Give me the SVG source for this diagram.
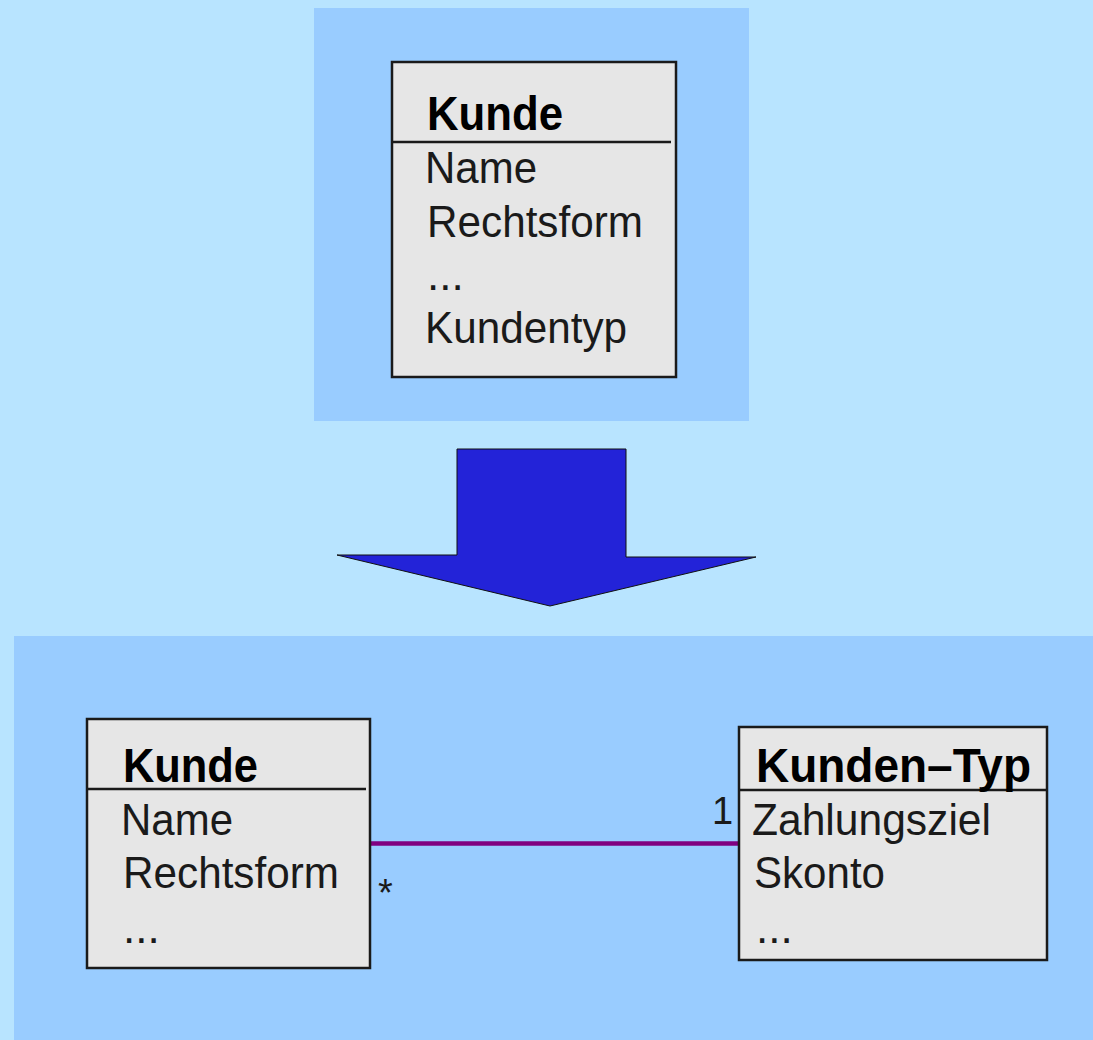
<svg xmlns="http://www.w3.org/2000/svg" width="1093" height="1040" viewBox="0 0 1093 1040">
<style>
.panel{fill:#99ccff}
.box{fill:#e6e6e6;stroke:#1a1a1a;stroke-width:2.5}
.div{stroke:#1a1a1a;stroke-width:2.5}
.t{font-family:"Liberation Sans",Arial,sans-serif;font-weight:bold;font-size:48px;fill:#000}
.a{font-family:"Liberation Sans",Arial,sans-serif;font-size:44px;fill:#1a1a1a}
.m{font-family:"Liberation Sans",Arial,sans-serif;font-size:38px;fill:#1a1a1a}
</style>
<rect width="1093" height="1040" fill="#b8e4ff"/>
<rect class="panel" x="314" y="8" width="435" height="413"/>
<rect class="panel" x="14" y="636" width="1079" height="404"/>
<g id="arrow">
<polygon points="457,449 626,449 626,557 756,557 550,606 337,555 457,555" fill="#2323d8" stroke="#111" stroke-width="1"/>
</g>
<g id="kunde-top">
<rect class="box" x="392" y="62" width="284" height="315"/>
<line class="div" x1="392" y1="142" x2="671" y2="142"/>
<text class="t" x="427" y="130" textLength="136" lengthAdjust="spacingAndGlyphs">Kunde</text>
<text class="a" x="425" y="183" textLength="112" lengthAdjust="spacingAndGlyphs">Name</text>
<text class="a" x="427" y="237" textLength="216" lengthAdjust="spacingAndGlyphs">Rechtsform</text>
<text class="a" x="427" y="290">...</text>
<text class="a" x="425" y="343" textLength="202" lengthAdjust="spacingAndGlyphs">Kundentyp</text>
</g>
<g id="connectors">
<line x1="370" y1="843.5" x2="739" y2="843.5" stroke="#800080" stroke-width="4.5"/>
<text class="m" x="378" y="906" font-size="44">*</text>
<text class="m" x="712" y="824">1</text>
</g>
<g id="kunde-bottom">
<rect class="box" x="87" y="719" width="283" height="249"/>
<line class="div" x1="87" y1="789" x2="366" y2="789"/>
<text class="t" x="123" y="782" textLength="135" lengthAdjust="spacingAndGlyphs">Kunde</text>
<text class="a" x="121" y="835" textLength="112" lengthAdjust="spacingAndGlyphs">Name</text>
<text class="a" x="123" y="888" textLength="216" lengthAdjust="spacingAndGlyphs">Rechtsform</text>
<text class="a" x="123" y="943">...</text>
</g>
<g id="kunden-typ">
<rect class="box" x="739" y="727" width="308" height="233"/>
<line class="div" x1="739" y1="790" x2="1047" y2="790"/>
<text class="t" x="756" y="782" textLength="275" lengthAdjust="spacingAndGlyphs">Kunden–Typ</text>
<text class="a" x="752" y="835" textLength="239" lengthAdjust="spacingAndGlyphs">Zahlungsziel</text>
<text class="a" x="754" y="888" textLength="131" lengthAdjust="spacingAndGlyphs">Skonto</text>
<text class="a" x="756" y="943">...</text>
</g>
</svg>
